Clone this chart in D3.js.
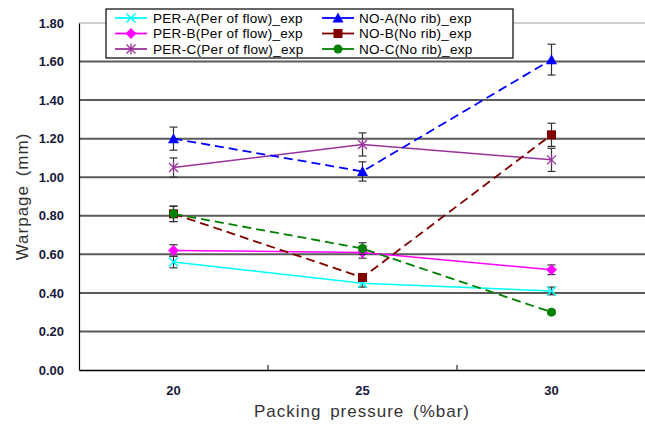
<!DOCTYPE html>
<html>
<head>
<meta charset="utf-8">
<script src="https://cdn.jsdelivr.net/npm/d3@7"></script>
<style>
  html, body { margin: 0; padding: 0; background: #fff; }
  svg { display: block; }
</style>
</head>
<body>
<svg id="chart" width="645" height="427"></svg>
<script>
// Packing pressure categories (x axis)
const pressures = ["20", "25", "30"];

// Y axis tick values
const yTicks = [0, 0.2, 0.4, 0.6, 0.8, 1.0, 1.2, 1.4, 1.6, 1.8];

// Warpage (mm) per series, one value per packing pressure
const perA = [0.56, 0.45, 0.41];
const perB = [0.62, 0.61, 0.52];
const perC = [1.05, 1.17, 1.09];
const noA  = [1.20, 1.03, 1.61];
const noB  = [0.81, 0.48, 1.22];
const noC  = [0.81, 0.63, 0.30];

// Error bar half-widths per series
const perAErr = [0.03, 0.02, 0.02];
const perBErr = [0.03, 0.03, 0.025];
const perCErr = [0.05, 0.06, 0.06];
const noAErr  = [0.06, 0.05, 0.08];
const noBErr  = [0.04, 0.02, 0.06];
const noCErr  = [0.04, 0.03, 0.01];

// Series names as shown in the legend
const seriesNames = [
  "PER-A(Per of flow)_exp", "PER-B(Per of flow)_exp", "PER-C(Per of flow)_exp",
  "NO-A(No rib)_exp", "NO-B(No rib)_exp", "NO-C(No rib)_exp"
];

const series = [
  { name: seriesNames[0], values: perA, err: perAErr, color: "#00ffff", marker: "x",        dashed: false },
  { name: seriesNames[1], values: perB, err: perBErr, color: "#ff00ff", marker: "diamond",  dashed: false },
  { name: seriesNames[2], values: perC, err: perCErr, color: "#993399", marker: "star",     dashed: false },
  { name: seriesNames[3], values: noA,  err: noAErr,  color: "#0000ff", marker: "triangle", dashed: true },
  { name: seriesNames[4], values: noB,  err: noBErr,  color: "#800000", marker: "square",   dashed: true },
  { name: seriesNames[5], values: noC,  err: noCErr,  color: "#008000", marker: "circle",   dashed: true }
];

const svg = d3.select("#chart");
const plotLeft = 79, plotRight = 646, plotTop = 23, plotBottom = 370;

const x = d3.scaleBand().domain(pressures).range([plotLeft, plotRight]).padding(0);
const y = d3.scaleLinear().domain([0, 1.8]).range([plotBottom, plotTop]);
const cx = d => x(d) + x.bandwidth() / 2;

// Horizontal gridlines
svg.append("g")
  .selectAll("line")
  .data(yTicks.filter(v => v > 0 && v < 1.8))
  .join("line")
  .attr("x1", plotLeft).attr("x2", 645)
  .attr("y1", d => y(d)).attr("y2", d => y(d))
  .attr("stroke", "#5a5a5a").attr("stroke-width", 2);

// Top frame line
svg.append("line")
  .attr("x1", plotLeft).attr("x2", 645)
  .attr("y1", y(1.8)).attr("y2", y(1.8))
  .attr("stroke", "#a0a0a0").attr("stroke-width", 1.2);

// Y axis
const yAxis = d3.axisLeft(y).tickValues(yTicks).tickFormat(d3.format(".2f")).tickSize(0).tickPadding(15);
const gy = svg.append("g").attr("transform", `translate(${plotLeft},0)`).call(yAxis);
gy.select(".domain").attr("stroke", "#000").attr("stroke-width", 1.2);
gy.selectAll("text")
  .attr("font-family", "'Liberation Sans', Arial, sans-serif")
  .attr("font-size", 13).attr("font-weight", "bold").attr("fill", "#1a1a3a");

// X axis (category labels at band centres, ticks at band edges)
const xAxis = d3.axisBottom(x).tickSize(0).tickPadding(16);
const gx = svg.append("g").attr("transform", `translate(0,${plotBottom})`).call(xAxis);
gx.select(".domain").attr("stroke", "#000").attr("stroke-width", 1.5);
gx.selectAll("text")
  .attr("font-family", "'Liberation Sans', Arial, sans-serif")
  .attr("font-size", 13).attr("font-weight", "bold").attr("fill", "#1a1a3a");
svg.append("g")
  .selectAll("line")
  .data(pressures.slice(1))
  .join("line")
  .attr("x1", d => x(d)).attr("x2", d => x(d))
  .attr("y1", plotBottom).attr("y2", plotBottom - 5)
  .attr("stroke", "#000").attr("stroke-width", 1);

// Axis titles
svg.append("text")
  .attr("x", (plotLeft + 645) / 2).attr("y", 417)
  .attr("text-anchor", "middle")
  .attr("font-family", "'Liberation Sans', Arial, sans-serif")
  .attr("font-size", 17).attr("letter-spacing", 1).attr("word-spacing", 3)
  .attr("fill", "#333")
  .text("Packing pressure (%bar)");

svg.append("text")
  .attr("transform", `translate(28,${(plotTop + plotBottom) / 2}) rotate(-90)`)
  .attr("text-anchor", "middle")
  .attr("font-family", "'Liberation Sans', Arial, sans-serif")
  .attr("font-size", 17).attr("letter-spacing", 1).attr("word-spacing", 3)
  .attr("fill", "#333")
  .text("Warpage (mm)");

// Marker drawing
function drawMarker(g, type, color) {
  const s = 4.5;
  switch (type) {
    case "x":
      g.append("path").attr("d", `M${-s},${-s}L${s},${s}M${-s},${s}L${s},${-s}`)
        .attr("stroke", color).attr("stroke-width", 1.5).attr("fill", "none");
      break;
    case "star":
      g.append("path").attr("d", `M${-s},${-s}L${s},${s}M${-s},${s}L${s},${-s}M0,${-s - 1}L0,${s + 1}`)
        .attr("stroke", color).attr("stroke-width", 1.3).attr("fill", "none");
      break;
    case "diamond":
      g.append("path").attr("d", `M0,${-s - 1}L${s + 1},0L0,${s + 1}L${-s - 1},0Z`).attr("fill", color);
      break;
    case "triangle":
      g.append("path").attr("d", `M0,${-s - 1}L${s + 1},${s}L${-s - 1},${s}Z`).attr("fill", color);
      break;
    case "square":
      g.append("rect").attr("x", -s).attr("y", -s).attr("width", 2 * s).attr("height", 2 * s).attr("fill", color);
      break;
    case "circle":
      g.append("circle").attr("r", s).attr("fill", color);
      break;
  }
}

const line = d3.line().x(d => cx(d.p)).y(d => y(d.v));

series.forEach(s => {
  const pts = pressures.map((p, i) => ({ p, v: s.values[i], e: s.err[i] }));
  const g = svg.append("g");

  // Error bars
  const eb = g.append("g").selectAll("g").data(pts).join("g");
  eb.append("line")
    .attr("x1", d => cx(d.p)).attr("x2", d => cx(d.p))
    .attr("y1", d => y(d.v + d.e)).attr("y2", d => y(d.v - d.e))
    .attr("stroke", "#333").attr("stroke-width", 1.2);
  eb.append("line")
    .attr("x1", d => cx(d.p) - 4).attr("x2", d => cx(d.p) + 4)
    .attr("y1", d => y(d.v + d.e)).attr("y2", d => y(d.v + d.e))
    .attr("stroke", "#333").attr("stroke-width", 1.2);
  eb.append("line")
    .attr("x1", d => cx(d.p) - 4).attr("x2", d => cx(d.p) + 4)
    .attr("y1", d => y(d.v - d.e)).attr("y2", d => y(d.v - d.e))
    .attr("stroke", "#333").attr("stroke-width", 1.2);

  // Series line
  g.append("path")
    .attr("d", line(pts))
    .attr("fill", "none")
    .attr("stroke", s.color)
    .attr("stroke-width", s.dashed ? 1.8 : 1.5)
    .attr("stroke-dasharray", s.dashed ? "9,5" : null);

  // Markers
  pts.forEach(d => {
    const m = g.append("g").attr("transform", `translate(${cx(d.p)},${y(d.v)})`);
    drawMarker(m, s.marker, s.color);
  });
});

// Legend
const lg = svg.append("g");
lg.append("rect")
  .attr("x", 106).attr("y", 9).attr("width", 407).attr("height", 49)
  .attr("fill", "#fff").attr("stroke", "#000").attr("stroke-width", 1.2);

series.forEach((s, i) => {
  const col = i < 3 ? 0 : 1;
  const row = i % 3;
  const lx = col === 0 ? 115 : 322;
  const ly = 18 + row * 15.5;
  const item = lg.append("g");
  item.append("line")
    .attr("x1", lx).attr("x2", lx + 32)
    .attr("y1", ly).attr("y2", ly)
    .attr("stroke", s.color).attr("stroke-width", 1.8);
  const m = item.append("g").attr("transform", `translate(${lx + 16},${ly})`);
  drawMarker(m, s.marker, s.color);
  item.append("text")
    .attr("x", col === 0 ? 153 : 359).attr("y", ly + 4.5)
    .attr("font-family", "'Liberation Sans', Arial, sans-serif")
    .attr("font-size", 13.5).attr("letter-spacing", 0.3).attr("fill", "#000")
    .text(s.name);
});
</script>
</body>
</html>
